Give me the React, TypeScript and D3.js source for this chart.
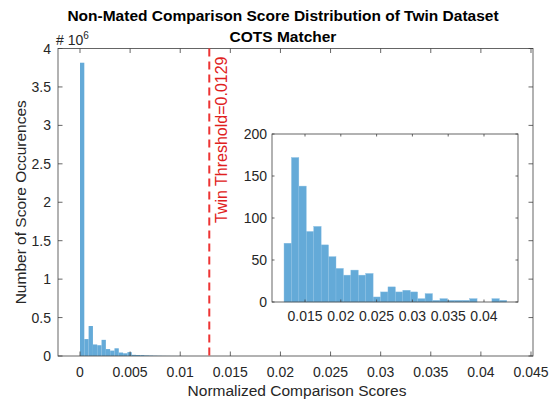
import React from "react";
import * as d3 from "d3";

// ---- data ----
const mainBinStart = 0;
const mainBinWidth = 0.00043;
const mainCounts = [
  3815000, 220000, 390000, 150000, 140000, 210000, 90000, 70000, 100000, 45000,
  35000, 50000, 15000, 13000, 12000, 8000, 6000, 4000, 3000, 2000, 1500, 1000,
  800, 600, 400, 300, 200, 150, 100, 80,
];
const insetBinStart = 0.01207;
const insetBinWidth = 0.001037;
const insetCounts = [
  70, 172, 138, 84, 90, 68, 54, 40, 32, 38, 32, 34, 6, 12, 18, 12, 14, 12, 4, 10,
  2, 4, 2, 2, 2, 4, 0, 0, 4, 2,
];
const mainXTicks = [0, 0.005, 0.01, 0.015, 0.02, 0.025, 0.03, 0.035, 0.04, 0.045];
const mainXTickLabels = ["0", "0.005", "0.01", "0.015", "0.02", "0.025", "0.03", "0.035", "0.04", "0.045"];
const mainYTicks = [0, 0.5e6, 1e6, 1.5e6, 2e6, 2.5e6, 3e6, 3.5e6, 4e6];
const mainYTickLabels = ["0", "0.5", "1", "1.5", "2", "2.5", "3", "3.5", "4"];
const insetXTicks = [0.015, 0.02, 0.025, 0.03, 0.035, 0.04];
const insetXTickLabels = ["0.015", "0.02", "0.025", "0.03", "0.035", "0.04"];
const insetYTicks = [0, 50, 100, 150, 200];
const threshold = 0.0129;

const FONT = "'Liberation Sans', Arial, Helvetica, sans-serif";
const AXIS = "#404040";
const BAR = "#64aad8";
const TICKFS = 14;

export default function App() {
  const W = 552, H = 400;
  const m = { l: 58, r: 533, t: 48.5, b: 356 };
  const x = d3.scaleLinear().domain([-0.002195, 0.0452]).range([m.l, m.r]);
  const y = d3.scaleLinear().domain([0, 4e6]).range([m.b, m.t]);

  const ins = { l: 272, r: 518, t: 134, b: 302 };
  const xi = d3.scaleLinear().domain([0.010391, 0.044749]).range([ins.l, ins.r]);
  const yi = d3.scaleLinear().domain([0, 200]).range([ins.b, ins.t]);

  const tl = 4.5;
  const tli = 2.5;

  return (
    <svg width={W} height={H} style={{ position: "absolute", left: 0, top: 0, background: "#fff" }} fontFamily={FONT}>
      <rect x={0} y={0} width={W} height={H} fill="#fff" />
      {/* main bars */}
      {mainCounts.map((c, i) => {
        const x0 = x(mainBinStart + i * mainBinWidth);
        const x1 = x(mainBinStart + (i + 1) * mainBinWidth);
        return <rect key={i} x={x0} y={y(c)} width={x1 - x0} height={y(0) - y(c)} fill={BAR} />;
      })}
      {/* main axes box */}
      <rect x={m.l} y={m.t} width={m.r - m.l} height={m.b - m.t} fill="none" stroke={AXIS} strokeWidth={0.8} />
      {mainXTicks.map((t, i) => (
        <g key={i}>
          <line x1={x(t)} x2={x(t)} y1={m.b} y2={m.b - tl} stroke={AXIS} strokeWidth={0.8} />
          <line x1={x(t)} x2={x(t)} y1={m.t} y2={m.t + tl} stroke={AXIS} strokeWidth={0.8} />
          <text x={x(t)} y={377} textAnchor="middle" fontSize={TICKFS} fill="#262626">{mainXTickLabels[i]}</text>
        </g>
      ))}
      {mainYTicks.map((t, i) => (
        <g key={i}>
          <line x1={m.l} x2={m.l + tl} y1={y(t)} y2={y(t)} stroke={AXIS} strokeWidth={0.8} />
          <line x1={m.r} x2={m.r - tl} y1={y(t)} y2={y(t)} stroke={AXIS} strokeWidth={0.8} />
          <text x={51} y={y(t) + 5} textAnchor="end" fontSize={TICKFS} fill="#262626">{mainYTickLabels[i]}</text>
        </g>
      ))}
      <text x={56} y={45} fontSize={14} fill="#262626">
        # 10<tspan dy={-6} fontSize={10}>6</tspan>
      </text>
      {/* threshold */}
      <line x1={x(threshold)} x2={x(threshold)} y1={m.t} y2={m.b} stroke="#ee3434" strokeWidth={2} strokeDasharray="8,5" />
      <text transform={`translate(${x(threshold) + 18},223) rotate(-90)`} fontSize={16} fill="#e02020">
        Twin Threshold=0.0129
      </text>
      {/* inset */}
      <rect x={ins.l} y={ins.t} width={ins.r - ins.l} height={ins.b - ins.t} fill="#fff" />
      {insetCounts.map((c, i) => {
        const x0 = xi(insetBinStart + i * insetBinWidth);
        const x1 = xi(insetBinStart + (i + 1) * insetBinWidth);
        return <rect key={i} x={x0} y={yi(c)} width={x1 - x0} height={yi(0) - yi(c)} fill={BAR} stroke="#8cc0e4" strokeWidth={0.4} />;
      })}
      <rect x={ins.l} y={ins.t} width={ins.r - ins.l} height={ins.b - ins.t} fill="none" stroke={AXIS} strokeWidth={0.8} />
      {insetXTicks.map((t, i) => (
        <g key={i}>
          <line x1={xi(t)} x2={xi(t)} y1={ins.b} y2={ins.b - tli} stroke={AXIS} strokeWidth={0.8} />
          <line x1={xi(t)} x2={xi(t)} y1={ins.t} y2={ins.t + tli} stroke={AXIS} strokeWidth={0.8} />
          <text x={xi(t)} y={321} textAnchor="middle" fontSize={TICKFS} fill="#262626">{insetXTickLabels[i]}</text>
        </g>
      ))}
      {insetYTicks.map((t, i) => (
        <g key={i}>
          <line x1={ins.l} x2={ins.l + tli} y1={yi(t)} y2={yi(t)} stroke={AXIS} strokeWidth={0.8} />
          <line x1={ins.r} x2={ins.r - tli} y1={yi(t)} y2={yi(t)} stroke={AXIS} strokeWidth={0.8} />
          <text x={267} y={yi(t) + 5} textAnchor="end" fontSize={TICKFS} fill="#262626">{String(t)}</text>
        </g>
      ))}
      {/* titles */}
      <text x={283} y={21} textAnchor="middle" fontSize={15.5} fontWeight="bold" fill="#000">
        Non-Mated Comparison Score Distribution of Twin Dataset
      </text>
      <text x={283} y={42} textAnchor="middle" fontSize={15.5} fontWeight="bold" fill="#000">
        COTS Matcher
      </text>
      <text x={297} y={396} textAnchor="middle" fontSize={15.5} fill="#262626">
        Normalized Comparison Scores
      </text>
      <text transform={`translate(26,${(m.t + m.b) / 2}) rotate(-90)`} textAnchor="middle" fontSize={15.5} fill="#262626">
        Number of Score Occurences
      </text>
    </svg>
  );
}
